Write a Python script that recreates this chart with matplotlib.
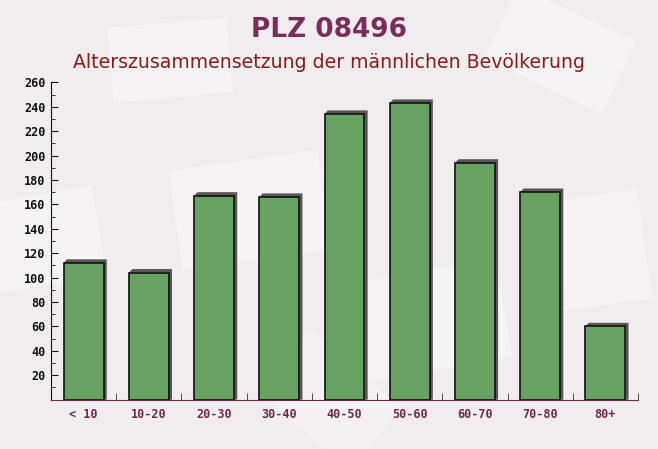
import matplotlib
matplotlib.use("Agg")
import matplotlib.pyplot as plt
from matplotlib.patches import Rectangle, Polygon
import numpy as np

categories = ["< 10", "10-20", "20-30", "30-40", "40-50", "50-60", "60-70", "70-80", "80+"]
values = [112, 104, 167, 166, 234, 243, 194, 170, 60]
yticks = list(range(20, 261, 20))

title = "PLZ 08496"
subtitle = "Alterszusammensetzung der männlichen Bevölkerung"

W, H = 658, 449
fig = plt.figure(figsize=(W / 100, H / 100), dpi=100)
fig.patch.set_facecolor("#f1edee")

# faint background envelopes
bg = fig.add_axes([0, 0, 1, 1], zorder=-10)
bg.set_xlim(0, W); bg.set_ylim(H, 0); bg.axis("off")
def env(cx, cy, w, h, ang, alpha=0.55):
    a = np.deg2rad(ang)
    pts = np.array([[-w/2, -h/2], [w/2, -h/2], [w/2, h/2], [-w/2, h/2]])
    R = np.array([[np.cos(a), -np.sin(a)], [np.sin(a), np.cos(a)]])
    p = pts @ R.T + [cx, cy]
    bg.add_patch(Polygon(p, closed=True, fc="#fbf9f9", ec="none", alpha=alpha))
env(170, 60, 120, 75, -5)
env(250, 210, 150, 100, -8)
env(560, 50, 130, 80, 25)
env(40, 240, 120, 90, -10)
env(430, 320, 150, 100, -10)
env(600, 250, 90, 110, -8)
env(330, 400, 120, 80, 40, 0.4)

ax = fig.add_axes([51 / W, 1 - 399.7 / H, (638 - 51) / W, (399.7 - 82.3) / H])
ax.set_facecolor("none")
x = np.arange(len(categories))
bw = 0.61
ox, oy = 0.05, 3.0
for xi, v in zip(x, values):
    # shadow (3D effect)
    ax.add_patch(Polygon([[xi - bw/2, v], [xi - bw/2 + ox, v + oy], [xi + bw/2 + ox, v + oy],
                          [xi + bw/2 + ox, 0], [xi + bw/2, 0], [xi + bw/2, v]],
                         closed=True, fc="#5a5658", ec="none", zorder=2))
ax.bar(x, values, width=bw, color="#68a262", edgecolor="#111111", linewidth=1.2, zorder=3)

ax.set_xlim(-0.5, len(categories) - 0.5)
ax.set_ylim(0, 260)
ax.set_yticks(yticks)
ax.set_yticklabels([str(t) for t in yticks], fontsize=8.5, fontfamily="DejaVu Sans Mono",
                   fontweight="bold", color="#111111")
ax.set_yticks(range(10, 261, 20), minor=True)
ax.set_xticks(x)
ax.set_xticklabels(categories, fontsize=8.5, fontfamily="DejaVu Sans Mono",
                   fontweight="bold", color="#6b2b4f")
ax.set_xticks(np.arange(-0.5, len(categories), 1.0), minor=True)
ax.tick_params(axis="x", which="major", length=0, pad=6)
ax.tick_params(axis="x", which="minor", length=5, direction="in", color="#333333")
ax.tick_params(axis="y", which="both", length=5, direction="in", color="#111111", pad=4)
ax.tick_params(axis="y", which="minor", length=3)
for s in ["top", "right"]:
    ax.spines[s].set_visible(False)
ax.spines["left"].set_color("#111111")
ax.spines["bottom"].set_color("#6b2b4f")

fig.text(329 / W, 1 - 30 / H, title, ha="center", va="center", fontsize=19,
         fontweight="bold", color="#7a2d5c", fontfamily="DejaVu Sans")
fig.text(329 / W, 1 - 62 / H, subtitle, ha="center", va="center", fontsize=13.6,
         color="#8b1c1c", fontfamily="DejaVu Sans")

fig.savefig("out.png", dpi=100, facecolor=fig.get_facecolor())
